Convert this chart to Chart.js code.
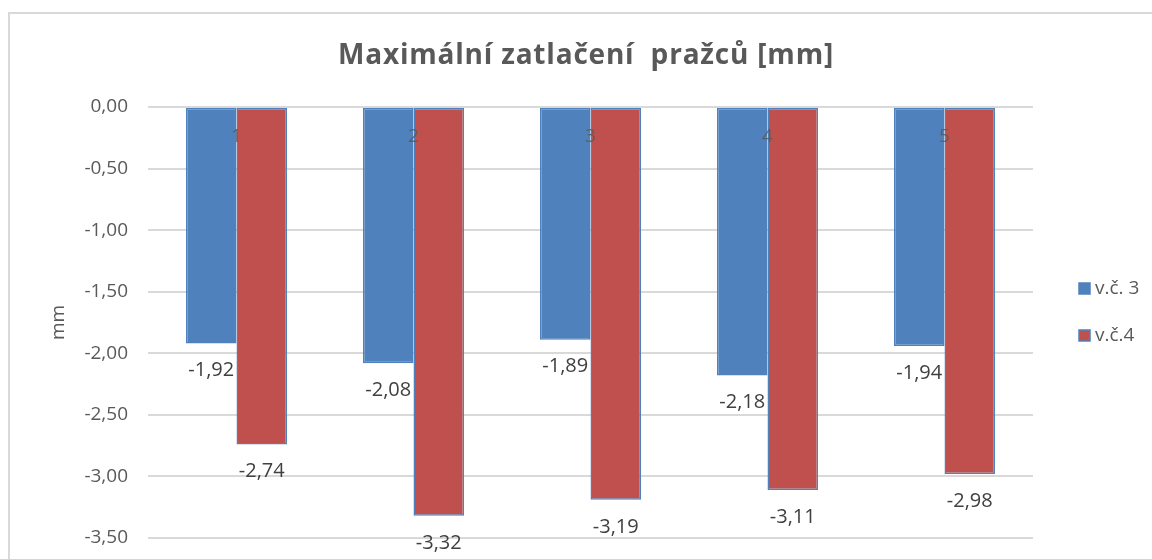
<!DOCTYPE html>
<html>
<head>
<meta charset="utf-8">
<script src="https://cdn.jsdelivr.net/npm/chart.js@4.4.1/dist/chart.umd.min.js"></script>
<style>
    html, body { margin: 0; padding: 0; background: #fff; overflow: hidden; }
    #wrap { width: 1152px; height: 559px; }
    canvas { display: block; }
</style>
</head>
<body>
<div id="wrap"><canvas id="chart" width="1152" height="559"></canvas></div>
<script>
// Data
const categories = ['1', '2', '3', '4', '5'];
const seriesNames = ['v.č. 3', 'v.č.4'];
const vc3Values = [-1.92, -2.08, -1.89, -2.18, -1.94];
const vc4Values = [-2.74, -3.32, -3.19, -3.11, -2.98];
const chartTitle = 'Maximální zatlačení  pražců [mm]';
const yAxisTitle = 'mm';

// Colors
const colors = {
    blue: '#4f81bd',
    red: '#c0504d',
    outline: '#4f81bd',
    text: '#595959',
    label: '#404040',
    grid: '#d9d9d9'
};

const fontFamily = '"Open Sans", "Noto Sans", sans-serif';
const fmt = (v) => v.toFixed(2).replace('.', ',');

// Frame, title, category labels, value labels and legend drawn on top
const decorPlugin = {
    id: 'decor',
    beforeDraw(chart) {
        const ctx = chart.ctx;
        ctx.save();
        ctx.strokeStyle = colors.grid;
        ctx.lineWidth = 2;
        ctx.strokeRect(9, 13, 1200, 600);
        ctx.restore();
    },
    afterDatasetsDraw(chart) {
        const ctx = chart.ctx;
        const xScale = chart.scales.x;
        const yScale = chart.scales.y;
        ctx.save();

        // title
        ctx.fillStyle = colors.text;
        ctx.font = 'bold 28px ' + fontFamily;
        ctx.letterSpacing = '0.8px';
        ctx.textAlign = 'center';
        ctx.textBaseline = 'alphabetic';
        ctx.fillText(chartTitle, 586, 64);
        ctx.letterSpacing = '0px';

        // category labels sitting under the zero line
        ctx.font = '19px ' + fontFamily;
        ctx.textBaseline = 'middle';
        ctx.fillStyle = 'rgba(89,89,89,0.85)';
        const zeroY = yScale.getPixelForValue(0);
        categories.forEach((c, i) => {
            ctx.fillText(c, xScale.getPixelForValue(i), zeroY + 30);
        });

        // value labels below each bar end
        ctx.fillStyle = colors.label;
        ctx.font = '20px ' + fontFamily;
        chart.data.datasets.forEach((ds, di) => {
            chart.getDatasetMeta(di).data.forEach((bar, i) => {
                ctx.fillText(fmt(ds.data[i]), bar.x, bar.y + 27);
            });
        });

        // legend
        ctx.textAlign = 'left';
        ctx.font = '19px ' + fontFamily;
        const legendY = [289, 336];
        chart.data.datasets.forEach((ds, di) => {
            const y = legendY[di];
            ctx.fillStyle = ds.backgroundColor;
            ctx.fillRect(1079, y - 6, 11, 11);
            ctx.strokeStyle = colors.outline;
            ctx.lineWidth = 1.5;
            ctx.strokeRect(1079, y - 6, 11, 11);
            ctx.fillStyle = colors.text;
            ctx.fillText(ds.label, 1095, y);
        });

        ctx.restore();
    }
};

new Chart(document.getElementById('chart').getContext('2d'), {
    type: 'bar',
    data: {
        labels: categories,
        datasets: [
            { label: seriesNames[0], data: vc3Values, backgroundColor: colors.blue },
            { label: seriesNames[1], data: vc4Values, backgroundColor: colors.red }
        ]
    },
    options: {
        responsive: false,
        devicePixelRatio: 1,
        animation: false,
        layout: { padding: { left: 47, right: 119, top: 107, bottom: 21 } },
        datasets: {
            bar: {
                barPercentage: 1,
                categoryPercentage: 0.571,
                borderColor: colors.outline,
                borderWidth: 1.5,
                borderSkipped: false
            }
        },
        plugins: {
            legend: { display: false },
            title: { display: false },
            tooltip: { enabled: false }
        },
        scales: {
            x: { display: false },
            y: {
                min: -3.5,
                max: 0,
                border: { display: false },
                // invisible tick marks give the gap between labels and plot
                grid: { color: colors.grid, lineWidth: 2, tickLength: 17, tickColor: 'rgba(0,0,0,0)' },
                ticks: {
                    stepSize: 0.5,
                    padding: 3,
                    color: colors.text,
                    font: { family: fontFamily, size: 19 },
                    callback: (v) => fmt(v)
                },
                title: {
                    display: true,
                    text: yAxisTitle,
                    color: colors.text,
                    font: { family: fontFamily, size: 19 },
                    padding: 0
                },
                afterFit(scale) { scale.width = 101; }
            }
        }
    },
    plugins: [decorPlugin]
});
</script>
</body>
</html>
